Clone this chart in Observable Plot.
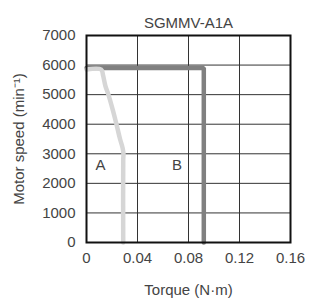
<!DOCTYPE html>
<html>
<head>
<meta charset="utf-8">
<script src="https://cdn.jsdelivr.net/npm/d3@7"></script>
<script src="https://cdn.jsdelivr.net/npm/@observablehq/plot@0.6"></script>
<style>
body { margin: 0; background: #fff; }
svg { font-family: "Liberation Sans", Arial, sans-serif; }
</style>
</head>
<body>
<div id="chart"></div>
<script>
const title = "SGMMV-A1A";
const xTicks = [0, 0.04, 0.08, 0.12, 0.16];
const yTicks = [0, 1000, 2000, 3000, 4000, 5000, 6000, 7000];
// Curve B (dark)
const curveBTorque = [0, 0.092, 0.092];
const curveBSpeed = [5900, 5900, 0];
// Curve A (light)
const curveATorque = [0, 0.0115, 0.0130, 0.0148, 0.0172, 0.0205, 0.0235, 0.0263, 0.0283, 0.0290, 0.0288, 0.0288];
const curveASpeed = [5850, 5850, 5650, 5300, 5000, 4500, 4000, 3500, 3200, 3000, 2800, 0];
const labels = [{t: 0.011, s: 2600, text: "A"}, {t: 0.071, s: 2600, text: "B"}];

const dataA = curveATorque.map((t, i) => ({t, s: curveASpeed[i]}));
const dataB = curveBTorque.map((t, i) => ({t, s: curveBSpeed[i]}));

const chart = Plot.plot({
  width: 309,
  height: 298,
  marginLeft: 86,
  marginRight: 19,
  marginTop: 35,
  marginBottom: 56,
  style: {fontSize: "15px", color: "#444", background: "#fff"},
  x: {domain: [0, 0.16]},
  y: {domain: [0, 7000]},
  marks: [
    Plot.gridX([0.04, 0.08, 0.12], {stroke: "#333", strokeOpacity: 1, strokeWidth: 1}),
    Plot.gridY(yTicks, {stroke: "#333", strokeOpacity: 1, strokeWidth: 1}),
    Plot.line(dataB, {x: "t", y: "s", stroke: "#808080", strokeWidth: 4.5, strokeLinejoin: "miter"}),
    Plot.line(dataA, {x: "t", y: "s", stroke: "#d6d6d6", strokeWidth: 4.5, curve: "catmull-rom"}),
    Plot.frame({stroke: "#111", strokeWidth: 2}),
    Plot.axisX({ticks: xTicks, tickSize: 0, tickPadding: 10, tickFormat: d => d === 0 ? "0" : String(d),
      label: "Torque (N·m)", labelAnchor: "center", labelOffset: 52, labelArrow: "none", fill: "#444"}),
    Plot.axisY({ticks: yTicks, tickSize: 0, tickPadding: 11, tickFormat: d => String(d),
      label: "Motor speed (min⁻¹)", labelAnchor: "center", labelOffset: 73, labelArrow: "none", fill: "#444"}),
    Plot.text(labels, {x: "t", y: "s", text: "text", fontSize: 15, fill: "#444"}),
    Plot.text([title], {frameAnchor: "top", dy: -18, fontSize: 15, fill: "#444"})
  ]
});
document.getElementById("chart").appendChild(chart);
</script>
</body>
</html>
